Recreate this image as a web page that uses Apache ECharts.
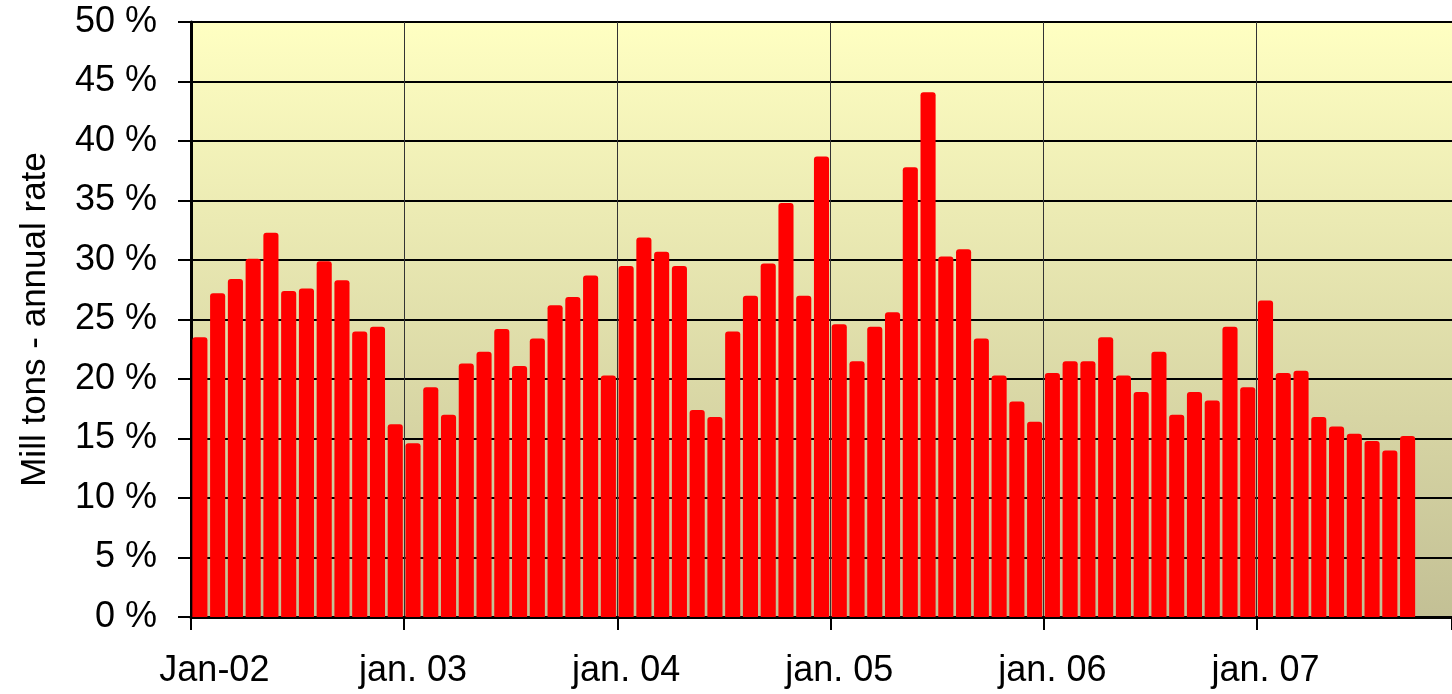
<!DOCTYPE html>
<html>
<head>
<meta charset="utf-8">
<script src="https://cdn.jsdelivr.net/npm/echarts@6/dist/echarts.min.js"></script>
<style>
  html, body { margin: 0; padding: 0; background: #fff; }
  #chart { width: 1452px; height: 694px; }
</style>
</head>
<body>
<div id="chart"></div>
<script>
// monthly values, Jan-02 .. Sep-07 (percent); Oct, Nov-07 not reported
var values2002 = [23.5, 27.2, 28.4, 30.1, 32.3, 27.4, 27.6, 29.9, 28.3, 24.0, 24.4, 16.2];
var values2003 = [14.6, 19.3, 17.0, 21.3, 22.3, 24.2, 21.1, 23.4, 26.2, 26.9, 28.7, 20.3];
var values2004 = [29.5, 31.9, 30.7, 29.5, 17.4, 16.8, 24.0, 27.0, 29.7, 34.8, 27.0, 38.7];
var values2005 = [24.6, 21.5, 24.4, 25.6, 37.8, 44.1, 30.3, 30.9, 23.4, 20.3, 18.1, 16.4];
var values2006 = [20.5, 21.5, 21.5, 23.5, 20.3, 18.9, 22.3, 17.0, 18.9, 18.2, 24.4, 19.3];
var values2007 = [26.6, 20.5, 20.7, 16.8, 16.0, 15.4, 14.8, 14.0, 15.2, null, null];

var years = ['02', '03', '04', '05', '06', '07'];
var monthNames = ['jan', 'feb', 'mar', 'apr', 'may', 'jun', 'jul', 'aug', 'sep', 'oct', 'nov', 'dec'];
var yearLabels = ['Jan-02', 'jan. 03', 'jan. 04', 'jan. 05', 'jan. 06', 'jan. 07'];
var yTicks = [0, 5, 10, 15, 20, 25, 30, 35, 40, 45, 50];

var values = [].concat(values2002, values2003, values2004, values2005, values2006, values2007);

var categories = [];
values.forEach(function (v, i) {
    categories.push(monthNames[i % 12] + '-' + years[Math.floor(i / 12)]);
});

var isYearStart = function (index) { return index % 12 === 0; };

var chart = echarts.init(document.getElementById('chart'));
chart.setOption({
    animation: false,
    grid: {
        left: 191, right: 0, top: 22, bottom: 77,
        show: true,
        borderWidth: 0,
        backgroundColor: {
            type: 'linear', x: 0, y: 0, x2: 0, y2: 1,
            colorStops: [
                {offset: 0, color: '#FFFFC2'},
                {offset: 1, color: '#C3C095'}
            ]
        }
    },
    xAxis: {
        type: 'category',
        data: categories,
        boundaryGap: true,
        axisLine: {lineStyle: {color: '#000', width: 3}},
        axisTick: {show: true, interval: isYearStart, length: 13, lineStyle: {color: '#000', width: 2}},
        splitLine: {show: true, interval: isYearStart, lineStyle: {color: '#333', width: 1}},
        axisLabel: {
            interval: isYearStart,
            margin: 36,
            color: '#000',
            fontFamily: 'Liberation Sans, Arial, sans-serif',
            fontSize: 36,
            formatter: function (val, index) {
                var label = yearLabels[Math.floor(index / 12)];
                return index === 0 ? '{first|' + label + '}' : label;
            },
            rich: {
                first: {
                    color: '#000',
                    fontFamily: 'Liberation Sans, Arial, sans-serif',
                    fontSize: 36,
                    padding: [0, 0, 0, 29]
                }
            }
        }
    },
    yAxis: {
        type: 'value',
        min: yTicks[0],
        max: yTicks[yTicks.length - 1],
        interval: 5,
        name: 'Mill tons - annual rate',
        nameLocation: 'middle',
        nameGap: 138,
        nameTextStyle: {
            color: '#000',
            fontFamily: 'Liberation Sans, Arial, sans-serif',
            fontSize: 35
        },
        axisLine: {show: true, lineStyle: {color: '#000', width: 3}},
        axisTick: {show: true, length: 13, lineStyle: {color: '#000', width: 2}},
        splitLine: {show: true, lineStyle: {color: '#000', width: 2}},
        axisLabel: {
            margin: 34,
            color: '#000',
            fontFamily: 'Liberation Sans, Arial, sans-serif',
            fontSize: 36,
            formatter: '{value} %'
        }
    },
    series: [{
        type: 'bar',
        data: values,
        barCategoryGap: '15%',
        itemStyle: {color: '#FF0000', borderRadius: [3, 3, 0, 0]}
    }]
});
</script>
</body>
</html>
